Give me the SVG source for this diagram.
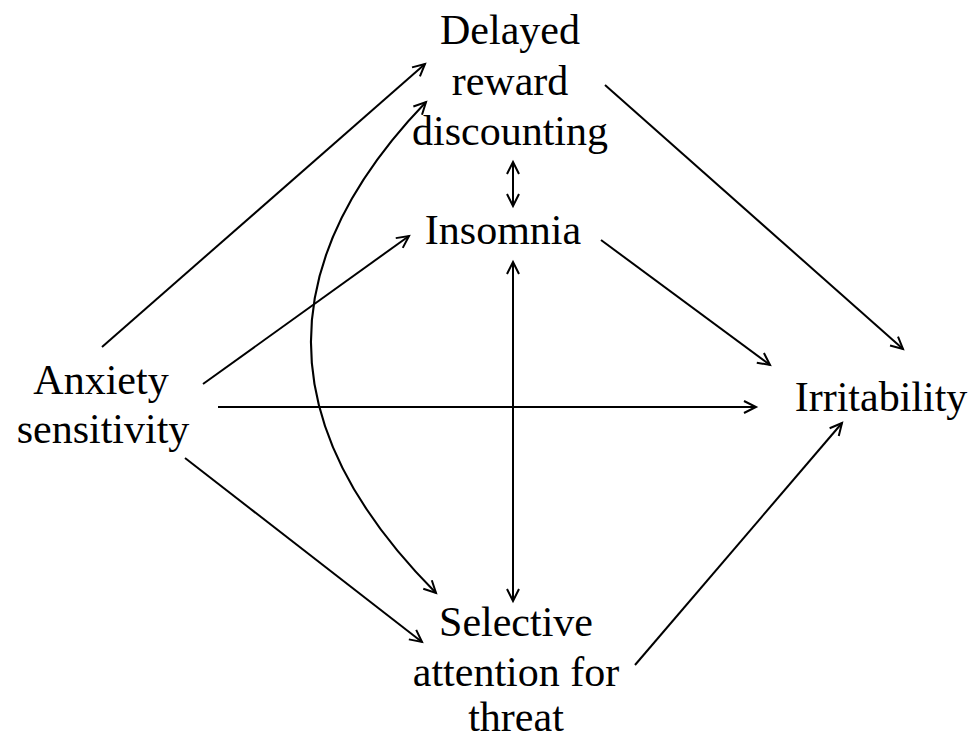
<svg xmlns="http://www.w3.org/2000/svg" width="970" height="741" viewBox="0 0 970 741">
<style>
text{font-family:"Liberation Serif","Times New Roman",serif;font-size:42px;fill:#000;text-anchor:middle}
.c{fill:none;stroke:#000;stroke-width:2}
</style>
<defs>
<marker id="ah" markerUnits="userSpaceOnUse" markerWidth="20" markerHeight="20" refX="13" refY="7" orient="auto-start-reverse" viewBox="0 0 20 14">
<path d="M1,1 L13,7 L1,13" fill="none" stroke="#000" stroke-width="2"/>
</marker>
</defs>
<rect width="970" height="741" fill="#fff"/>
<g id="connectors">
<line class="c" x1="102" y1="347" x2="425" y2="64" marker-end="url(#ah)"/>
<path class="c" d="M426,102 Q191,346.5 436,593" marker-start="url(#ah)" marker-end="url(#ah)"/>
<line class="c" x1="203" y1="384" x2="409" y2="236" marker-end="url(#ah)"/>
<line class="c" x1="218" y1="407" x2="756" y2="407" marker-end="url(#ah)"/>
<line class="c" x1="185" y1="458" x2="422" y2="642" marker-end="url(#ah)"/>
<line class="c" x1="513" y1="162" x2="513" y2="206" marker-start="url(#ah)" marker-end="url(#ah)"/>
<line class="c" x1="513" y1="262" x2="513" y2="601" marker-start="url(#ah)" marker-end="url(#ah)"/>
<line class="c" x1="605" y1="85" x2="903" y2="349" marker-end="url(#ah)"/>
<line class="c" x1="601" y1="240" x2="770" y2="365" marker-end="url(#ah)"/>
<line class="c" x1="635" y1="665" x2="842" y2="423" marker-end="url(#ah)"/>
</g>
<g id="delayed"><text x="510" y="44">Delayed</text><text x="510" y="95">reward</text><text x="510" y="145">discounting</text></g>
<g id="insomnia"><text x="503" y="244">Insomnia</text></g>
<g id="anxiety"><text x="101" y="394">Anxiety</text><text x="103" y="443">sensitivity</text></g>
<g id="irritability"><text x="881" y="411">Irritability</text></g>
<g id="selective"><text x="516" y="636">Selective</text><text x="516" y="686">attention for</text><text x="516" y="731">threat</text></g>
</svg>
